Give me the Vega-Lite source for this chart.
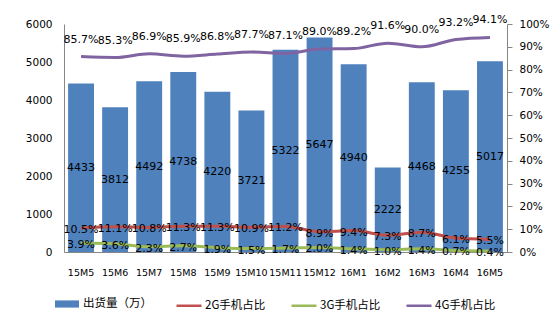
{
  "$schema": "https://vega.github.io/schema/vega-lite/v6.json",
  "width": 443,
  "height": 228,
  "autosize": {"type": "none"},
  "padding": {"left": 64, "top": 24, "right": 53, "bottom": 70},
  "config": {
    "view": {"stroke": null},
    "font": "DejaVu Sans",
    "axis": {"grid": false, "domainColor": "#868686", "tickColor": "#868686", "labelColor": "#000000", "labelFont": "DejaVu Sans", "title": null},
    "legend": {"padding": 0, "labelFont": "Noto Sans CJK SC", "labelFontSize": 11.5, "labelColor": "#000000"}
  },
  "datasets": {
    "months": [
      {"month": "15M5", "shipments": 4433},
      {"month": "15M6", "shipments": 3812},
      {"month": "15M7", "shipments": 4492},
      {"month": "15M8", "shipments": 4738},
      {"month": "15M9", "shipments": 4220},
      {"month": "15M10", "shipments": 3721},
      {"month": "15M11", "shipments": 5322},
      {"month": "15M12", "shipments": 5647},
      {"month": "16M1", "shipments": 4940},
      {"month": "16M2", "shipments": 2222},
      {"month": "16M3", "shipments": 4468},
      {"month": "16M4", "shipments": 4255},
      {"month": "16M5", "shipments": 5017}
    ],
    "shares": [
      {"month": "15M5", "series": "2G手机占比", "share": 0.105},
      {"month": "15M6", "series": "2G手机占比", "share": 0.111},
      {"month": "15M7", "series": "2G手机占比", "share": 0.108},
      {"month": "15M8", "series": "2G手机占比", "share": 0.113},
      {"month": "15M9", "series": "2G手机占比", "share": 0.113},
      {"month": "15M10", "series": "2G手机占比", "share": 0.109},
      {"month": "15M11", "series": "2G手机占比", "share": 0.112},
      {"month": "15M12", "series": "2G手机占比", "share": 0.089},
      {"month": "16M1", "series": "2G手机占比", "share": 0.094},
      {"month": "16M2", "series": "2G手机占比", "share": 0.073},
      {"month": "16M3", "series": "2G手机占比", "share": 0.087},
      {"month": "16M4", "series": "2G手机占比", "share": 0.061},
      {"month": "16M5", "series": "2G手机占比", "share": 0.055},
      {"month": "15M5", "series": "3G手机占比", "share": 0.039},
      {"month": "15M6", "series": "3G手机占比", "share": 0.036},
      {"month": "15M7", "series": "3G手机占比", "share": 0.023},
      {"month": "15M8", "series": "3G手机占比", "share": 0.027},
      {"month": "15M9", "series": "3G手机占比", "share": 0.019},
      {"month": "15M10", "series": "3G手机占比", "share": 0.015},
      {"month": "15M11", "series": "3G手机占比", "share": 0.017},
      {"month": "15M12", "series": "3G手机占比", "share": 0.020},
      {"month": "16M1", "series": "3G手机占比", "share": 0.014},
      {"month": "16M2", "series": "3G手机占比", "share": 0.010},
      {"month": "16M3", "series": "3G手机占比", "share": 0.014},
      {"month": "16M4", "series": "3G手机占比", "share": 0.007},
      {"month": "16M5", "series": "3G手机占比", "share": 0.004},
      {"month": "15M5", "series": "4G手机占比", "share": 0.857},
      {"month": "15M6", "series": "4G手机占比", "share": 0.853},
      {"month": "15M7", "series": "4G手机占比", "share": 0.869},
      {"month": "15M8", "series": "4G手机占比", "share": 0.859},
      {"month": "15M9", "series": "4G手机占比", "share": 0.868},
      {"month": "15M10", "series": "4G手机占比", "share": 0.877},
      {"month": "15M11", "series": "4G手机占比", "share": 0.871},
      {"month": "15M12", "series": "4G手机占比", "share": 0.890},
      {"month": "16M1", "series": "4G手机占比", "share": 0.892},
      {"month": "16M2", "series": "4G手机占比", "share": 0.916},
      {"month": "16M3", "series": "4G手机占比", "share": 0.900},
      {"month": "16M4", "series": "4G手机占比", "share": 0.932},
      {"month": "16M5", "series": "4G手机占比", "share": 0.941}
    ]
  },
  "layer": [
    {
      "data": {"name": "months"},
      "mark": {"type": "bar"},
      "encoding": {
        "x": {
          "field": "month", "type": "ordinal",
          "scale": {"domain": ["15M5","15M6","15M7","15M8","15M9","15M10","15M11","15M12","16M1","16M2","16M3","16M4","16M5"], "paddingInner": 0.24, "paddingOuter": 0.12},
          "axis": {"orient": "bottom", "ticks": false, "labelAngle": 0, "labelFontSize": 9.5, "labelPadding": 15, "title": null}
        },
        "y": {
          "field": "shipments", "type": "quantitative",
          "scale": {"domain": [0, 6000], "nice": false},
          "axis": {"orient": "left", "values": [0, 1000, 2000, 3000, 4000, 5000, 6000], "format": "d", "ticks": false, "labelPadding": 12, "labelFontSize": 10.5, "title": null}
        },
        "fill": {
          "datum": "出货量（万）", "type": "nominal",
          "scale": {"range": ["#4F81BD"]},
          "legend": {"orient": "none", "legendX": -9, "legendY": 268, "title": null, "symbolType": "M-1,-0.3H1V0.3H-1Z", "symbolSize": 576, "symbolStrokeWidth": 0, "labelOffset": 4}
        }
      }
    },
    {
      "data": {"name": "months"},
      "mark": {"type": "text", "baseline": "middle", "fontSize": 11, "color": "#000000", "font": "DejaVu Sans"},
      "encoding": {
        "x": {"field": "month", "type": "ordinal"},
        "y": {"field": "shipments", "type": "quantitative", "scale": {"domain": [0, 12000], "nice": false}, "axis": null},
        "text": {"field": "shipments", "type": "quantitative", "format": "d"}
      }
    },
    {
      "data": {"name": "shares"},
      "mark": {"type": "line", "interpolate": "monotone", "strokeWidth": 3},
      "encoding": {
        "x": {"field": "month", "type": "ordinal"},
        "y": {
          "field": "share", "type": "quantitative",
          "scale": {"domain": [0, 1], "nice": false},
          "axis": {"orient": "right", "values": [0, 0.1, 0.2, 0.3, 0.4, 0.5, 0.6, 0.7, 0.8, 0.9, 1], "format": ".0%", "tickSize": 5, "labelPadding": 7, "labelFontSize": 10.5, "title": null}
        },
        "stroke": {
          "field": "series", "type": "nominal",
          "scale": {"domain": ["2G手机占比", "3G手机占比", "4G手机占比"], "range": ["#C0504D", "#9BBB59", "#8064A2"]},
          "legend": {"orient": "none", "legendX": 111, "legendY": 267.5, "title": null, "direction": "horizontal", "symbolType": "stroke", "symbolSize": 625, "symbolStrokeWidth": 2.5, "labelOffset": 2, "columnPadding": 20}
        }
      }
    },
    {
      "data": {"name": "shares"},
      "transform": [{"filter": "datum.series !== '4G手机占比'"}],
      "mark": {"type": "text", "baseline": "middle", "fontSize": 11, "color": "#000000", "dy": 2, "font": "DejaVu Sans"},
      "encoding": {
        "x": {"field": "month", "type": "ordinal"},
        "y": {"field": "share", "type": "quantitative", "scale": {"domain": [0, 1], "nice": false}, "axis": null},
        "text": {"field": "share", "type": "quantitative", "format": ".1%"}
      }
    },
    {
      "data": {"name": "shares"},
      "transform": [{"filter": "datum.series === '4G手机占比'"}],
      "mark": {"type": "text", "baseline": "middle", "fontSize": 11, "color": "#000000", "dy": -17, "font": "DejaVu Sans"},
      "encoding": {
        "x": {"field": "month", "type": "ordinal"},
        "y": {"field": "share", "type": "quantitative", "scale": {"domain": [0, 1], "nice": false}, "axis": null},
        "text": {"field": "share", "type": "quantitative", "format": ".1%"}
      }
    }
  ],
  "resolve": {"scale": {"y": "independent"}}
}
